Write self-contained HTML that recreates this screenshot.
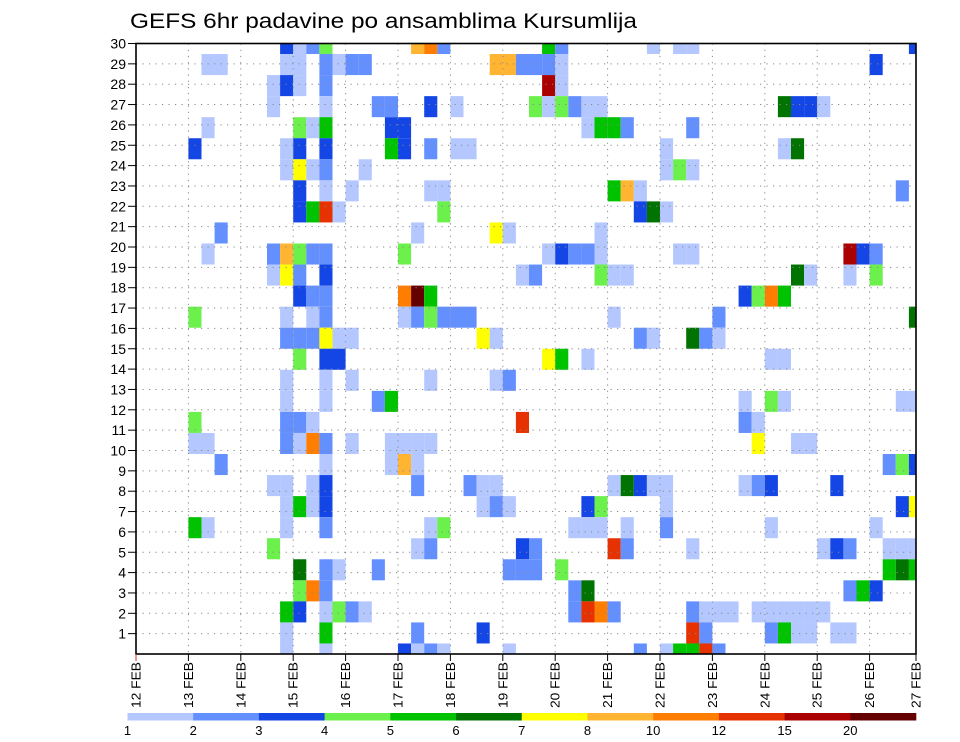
<!DOCTYPE html>
<html><head><meta charset="utf-8"><title>GEFS 6hr padavine po ansamblima Kursumlija</title>
<style>
html,body{margin:0;padding:0;background:#fff;}
svg{display:block;font-family:"Liberation Sans",sans-serif;}
</style></head>
<body>
<svg id="chart" width="960" height="742" viewBox="0 0 960 742">
  <defs><clipPath id="plotClip"><rect x="136" y="43.5" width="780" height="610.5"/></clipPath></defs>
  <rect x="0" y="0" width="960" height="742" fill="#fff"/>
  <text x="130" y="28" font-size="21" textLength="507" lengthAdjust="spacingAndGlyphs" fill="#000">GEFS 6hr padavine po ansamblima Kursumlija</text>
  <g id="cells" clip-path="url(#plotClip)"></g>
  <g id="grid"></g>
  <rect x="136" y="43.5" width="780" height="610.5" fill="none" stroke="#000" stroke-width="1.6"/>
  <g id="yaxis"></g>
  <g id="xaxis"></g>
  <g id="legend"></g>
</svg>
<script>
// ---- data ----
const dateLabels = ["12 FEB","13 FEB","14 FEB","15 FEB","16 FEB","17 FEB","18 FEB","19 FEB","20 FEB","21 FEB","22 FEB","23 FEB","24 FEB","25 FEB","26 FEB","27 FEB"];
const memberLabels = [1,2,3,4,5,6,7,8,9,10,11,12,13,14,15,16,17,18,19,20,21,22,23,24,25,26,27,28,29,30];
const binLabels = ["1","2","3","4","5","6","7","8","10","12","15","20"];
const binColors = ["#b4c8ff","#6490ff","#1446e6","#6cf04c","#00c300","#007300","#ffff00","#ffb432","#ff7d00","#e63200","#aa0000","#640000"];
const binCodes = "abcdefyoOrRm";
// each row (top to bottom): "step+bin" entries; step = 6h index from 12 FEB 00Z, bin letter = color class
const memberRows = [
"11c 12a 13b 14d 21o 22O 23b 31e 32b 39a 41a 42a 59c",
"5a 6a 11a 12a 14b 15a 16b 17b 27o 28o 29b 30b 31b 32a 56c",
"10a 11c 12a 14b 31R 32a",
"10a 14a 18b 19b 22c 24a 30d 31a 32d 33b 34a 35a 49f 50c 51c 52a",
"5a 12d 13a 14e 19c 20c 34a 35e 36e 37b 42b",
"4c 11a 12c 14c 19e 20c 22b 24a 25a 40a 49a 50f",
"11a 12y 13a 14b 17a 40a 41d 42a",
"12c 14a 16a 22a 23a 36e 37o 38a 58b",
"12c 13e 14r 15a 23d 38c 39f 40a",
"6b 21a 27y 28a 35a",
"5a 10b 11o 12d 13b 14b 20d 31a 32c 33b 34b 35a 41a 42a 54R 55c 56b",
"10a 11y 12b 14c 29a 30b 35d 36a 37a 50f 51a 54a 56d",
"12c 13b 14b 20O 21m 22e 46c 47d 48O 49e",
"4d 11a 13a 14b 20a 21b 22d 23b 24b 25b 36a 44b 59f",
"11b 12b 13b 14y 15a 16a 26y 27a 38b 39a 42f 43b 44a",
"12d 14c 15c 31y 32e 34a 48a 49a",
"11a 14a 16a 22a 27a 28b",
"11a 14a 18b 19e 46a 48d 49a 58a 59a",
"4d 11b 12b 13a 29r 46b 47a",
"4a 5a 11b 12a 13O 14b 16a 19a 20a 21a 22a 47y 50a 51a",
"6b 14a 19a 20o 21a 57b 58d 59c",
"10a 11a 13a 14c 21b 25b 26a 27a 36a 37f 38c 39a 40a 46a 47b 48c 53c",
"11a 12e 13a 14c 26a 27b 28a 34c 35d 40a 58c 59y",
"4e 5a 11a 14b 22a 23d 33a 34a 35a 37a 40b 48a 56a",
"10d 21a 22b 29c 30b 36r 37b 42a 52a 53c 54b 57a 58a 59a",
"12f 14b 15a 18b 28b 29b 30b 32d 57e 58f 59e",
"12d 13O 14b 33b 34f 54b 55e 56c",
"11e 12c 14a 15d 16b 17a 33b 34r 35O 36b 42b 43a 44a 45a 47a 48a 49a 50a 51a 52a",
"11a 14e 21b 26c 42r 43b 48b 49e 50a 51a 53a 54a",
"11a 14a 20c 21a 22b 23a 28a 38b 40a 41e 42e 43r 44b"
];
// ---- scales ----
const NS = "http://www.w3.org/2000/svg";
const X0 = 136, X1 = 916, Y0 = 43.5, Y1 = 654;
const stepW = 13.1;
const rowH = (Y1 - Y0) / (memberRows.length - 1);
const xStep = s => X0 + s * stepW;
const xDay = d => X0 + d * 4 * stepW;
const yRow = k => Y0 + k * rowH;
const yLabel = v => Y1 - v * (Y1 - Y0) / 30;
function mk(tag, attrs, parent) {
  const e = document.createElementNS(NS, tag);
  for (const k in attrs) e.setAttribute(k, attrs[k]);
  parent.appendChild(e);
  return e;
}
// ---- cells ----
const cellsG = document.getElementById('cells');
memberRows.forEach((row, k) => {
  row.split(' ').filter(Boolean).forEach(tok => {
    const step = parseInt(tok, 10);
    const bin = binCodes.indexOf(tok.replace(/[0-9]/g, ''));
    const r = mk('rect', {x: xStep(step).toFixed(2), y: (yRow(k) - rowH / 2).toFixed(2), width: stepW.toFixed(2), height: rowH.toFixed(2), fill: binColors[bin]}, cellsG);
    
    
  });
});
// ---- grid ----
const gridG = document.getElementById('grid');
for (let d = 1; d < dateLabels.length - 1; d++) {
  const x = xDay(d);
  const l = mk('line', {x1: x, x2: x, y1: Y0, y2: Y1, stroke: '#888', 'stroke-width': 1, 'stroke-dasharray': '1.2 5'}, gridG);
  
  
}
memberLabels.forEach(v => {
  const y = yLabel(v);
  if (v === 30) return;
  const l = mk('line', {x1: X0, x2: X1, y1: y, y2: y, stroke: '#888', 'stroke-width': 1, 'stroke-dasharray': '1.2 5.3'}, gridG);
  
  
});
// ---- y axis ----
const yG = document.getElementById('yaxis');
memberLabels.forEach(v => {
  const y = yLabel(v);
  const t = mk('line', {x1: 128, x2: 136, y1: y, y2: y, stroke: '#000', 'stroke-width': 1}, yG);
  
  
  const tx = mk('text', {x: 126, y: y + 5, 'font-size': 14, 'text-anchor': 'end', fill: '#000'}, yG);
  tx.textContent = v;
  
  
});
// ---- x axis ----
const xG = document.getElementById('xaxis');
dateLabels.forEach((lab, d) => {
  const x = Math.min(xDay(d), X1);
  const t = mk('line', {x1: x, x2: x, y1: Y1, y2: Y1 + 7, stroke: d === 0 ? '#c33' : '#000', 'stroke-width': 1}, xG);
  
  
  const tx = mk('text', {x: 0, y: 0, 'font-size': 13, fill: '#000', textLength: 46, lengthAdjust: 'spacingAndGlyphs', transform: 'translate(' + (x + 4.5) + ',708) rotate(-90)'}, xG);
  tx.textContent = lab;
  
  
});
// ---- legend ----
const lG = document.getElementById('legend');
const LX0 = 127.5, LX1 = 916, segW = (LX1 - LX0) / binColors.length;
binColors.forEach((c, i) => {
  const r = mk('rect', {x: (LX0 + i * segW).toFixed(2), y: 713, width: (segW + 0.3).toFixed(2), height: 7.5, fill: c}, lG);
  
  
});
binLabels.forEach((lab, i) => {
  const tx = mk('text', {x: (LX0 + i * segW).toFixed(2), y: 735, 'font-size': 13, 'text-anchor': 'middle', fill: '#000'}, lG);
  tx.textContent = lab;
  
  
});
</script>
</body></html>
